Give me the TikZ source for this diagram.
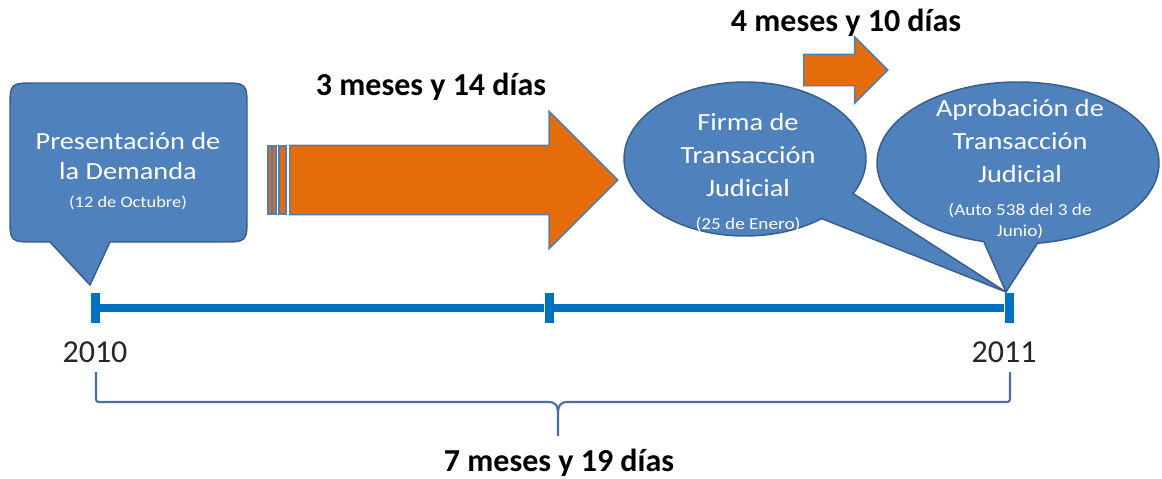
\documentclass[tikz,border=0pt]{standalone}
\usepackage{fontspec}
\setmainfont{Carlito}
\newfontfamily\widefont[FakeStretch=1.15]{Carlito}
\usetikzlibrary{shapes.callouts}
\usetikzlibrary{shapes.arrows}
\usetikzlibrary{positioning}
\definecolor{bubbleblue}{HTML}{4F81BD}
\definecolor{bubbleedge}{HTML}{385D8A}
\definecolor{arroworange}{HTML}{E46C0A}
\definecolor{arrowedge}{HTML}{4A7EBB}
\definecolor{lineblue}{HTML}{0070C0}
\definecolor{braceblue}{HTML}{4A6FA5}
\tikzset{
    bubble/.style = {fill=bubbleblue, draw=bubbleedge, line width=1.1pt, inner sep=0pt},
    bubbletext/.style = {text=white, align=center, inner sep=0pt, font=\widefont\fontsize{18.5}{24.75}\selectfont},
    durarrow/.style = {single arrow, fill=arroworange, draw=arrowedge, line width=1.1pt, inner xsep=0pt},
    stripe/.style = {fill=arroworange, draw=arrowedge, line width=1.1pt},
    durlabel/.style = {inner sep=0pt, font=\bfseries\fontsize{24}{28}\selectfont},
    yearlabel/.style = {inner sep=0pt, text=black!85, font=\fontsize{24}{28}\selectfont},
    yeartick/.style = {rectangle, fill=lineblue, inner sep=0pt, minimum width=6.75pt, minimum height=22.5pt},
    bracepath/.style = {draw=braceblue, line width=1.6pt, line join=round},
}
\newcommand{\datefont}{\widefont\fontsize{12.5}{15}\selectfont}

\begin{document}
\begin{tikzpicture}[x=0.75pt, y=-0.75pt]
\useasboundingbox (0,0) rectangle (1162,478);
% timeline
\node[yeartick] at (95,308) (t1) {};
\node[yeartick] at (549,308) (t2) {};
\node[yeartick] at (1009,308) (t3) {};
\draw[lineblue, line width=6pt] (t1) -- (t2) -- (t3);
\node[yearlabel] at (95,352) (y2010) {2010};
\node[yearlabel] at (1004,352) (y2011) {2011};
\coordinate (tipA) at (90,285);
\coordinate (tipC) at (1006,292);
%
% demanda callout
\draw[bubble] (tipA) -- (110,242) -- (221,242) .. controls (247,242) .. (247,216)
    -- (247,109) .. controls (247,83) .. (221,83) -- (36,83) .. controls (10,83) .. (10,109)
    -- (10,216) .. controls (10,242) .. (36,242) -- (50,242) -- cycle;
\node[bubbletext, font=\widefont\fontsize{18.5}{22.5}\selectfont] at (128,171) (demanda)
    {Presentación de\\la Demanda\\[-2pt]{\widefont\fontsize{12}{15}\selectfont (12 de Octubre)}};
%
% firma and aprobacion callouts
\node[bubble, ellipse callout, minimum width=181.5pt, minimum height=115.5pt,
    callout absolute pointer={(tipC)}, callout pointer arc=24] at (745,159) (firmaB) {};
\node[bubbletext] at (748,173) (firma)
    {Firma de\\Transacción\\Judicial\\{\datefont (25 de Enero)}};
\node[bubble, ellipse callout, minimum width=211.5pt, minimum height=121.5pt,
    callout absolute pointer={(tipC)}, callout pointer arc=22] at (1018,163) (aprobB) {};
\node[bubbletext] at (1020,169) (aprob)
    {Aprobación de\\Transacción\\Judicial\\{\datefont (Auto 538 del 3 de}\\[-9pt]{\datefont Junio)}};
%
% duration arrows
\draw[stripe] (268,146) rectangle (272,214);
\draw[stripe] (272,146) rectangle (276,214);
\draw[stripe] (279,146) rectangle (286,214);
\node[durarrow, minimum height=246pt, inner ysep=25.5pt, single arrow head extend=25.5pt,
    anchor=tail] at (289,180) (arrowA) {};
\node[durarrow, minimum height=63pt, inner ysep=11.25pt, single arrow head extend=13.1pt,
    anchor=tail] at (803,70) (arrowB) {};
\node[durlabel, anchor=base] at (431,95) (durA) {3 meses y 14 días};
\node[durlabel, anchor=base] at (846,32) (durB) {4 meses y 10 días};
%
% brace
\coordinate (braceL) at (96,372);
\coordinate (braceTip) at (558,436);
\coordinate (braceR) at (1010,372);
\draw[bracepath] (braceL) -- (96,396) .. controls (96,402) .. (102,402) -- (548,402)
    .. controls (556,402) and (558,405) .. (558,416) -- (braceTip)
    (braceTip) -- (558,416) .. controls (558,405) and (560,402) .. (568,402) -- (1004,402)
    .. controls (1010,402) .. (1010,396) -- (braceR);
\node[durlabel, anchor=base] at (559,471) (durC) {7 meses y 19 días};
\end{tikzpicture}
\end{document}
